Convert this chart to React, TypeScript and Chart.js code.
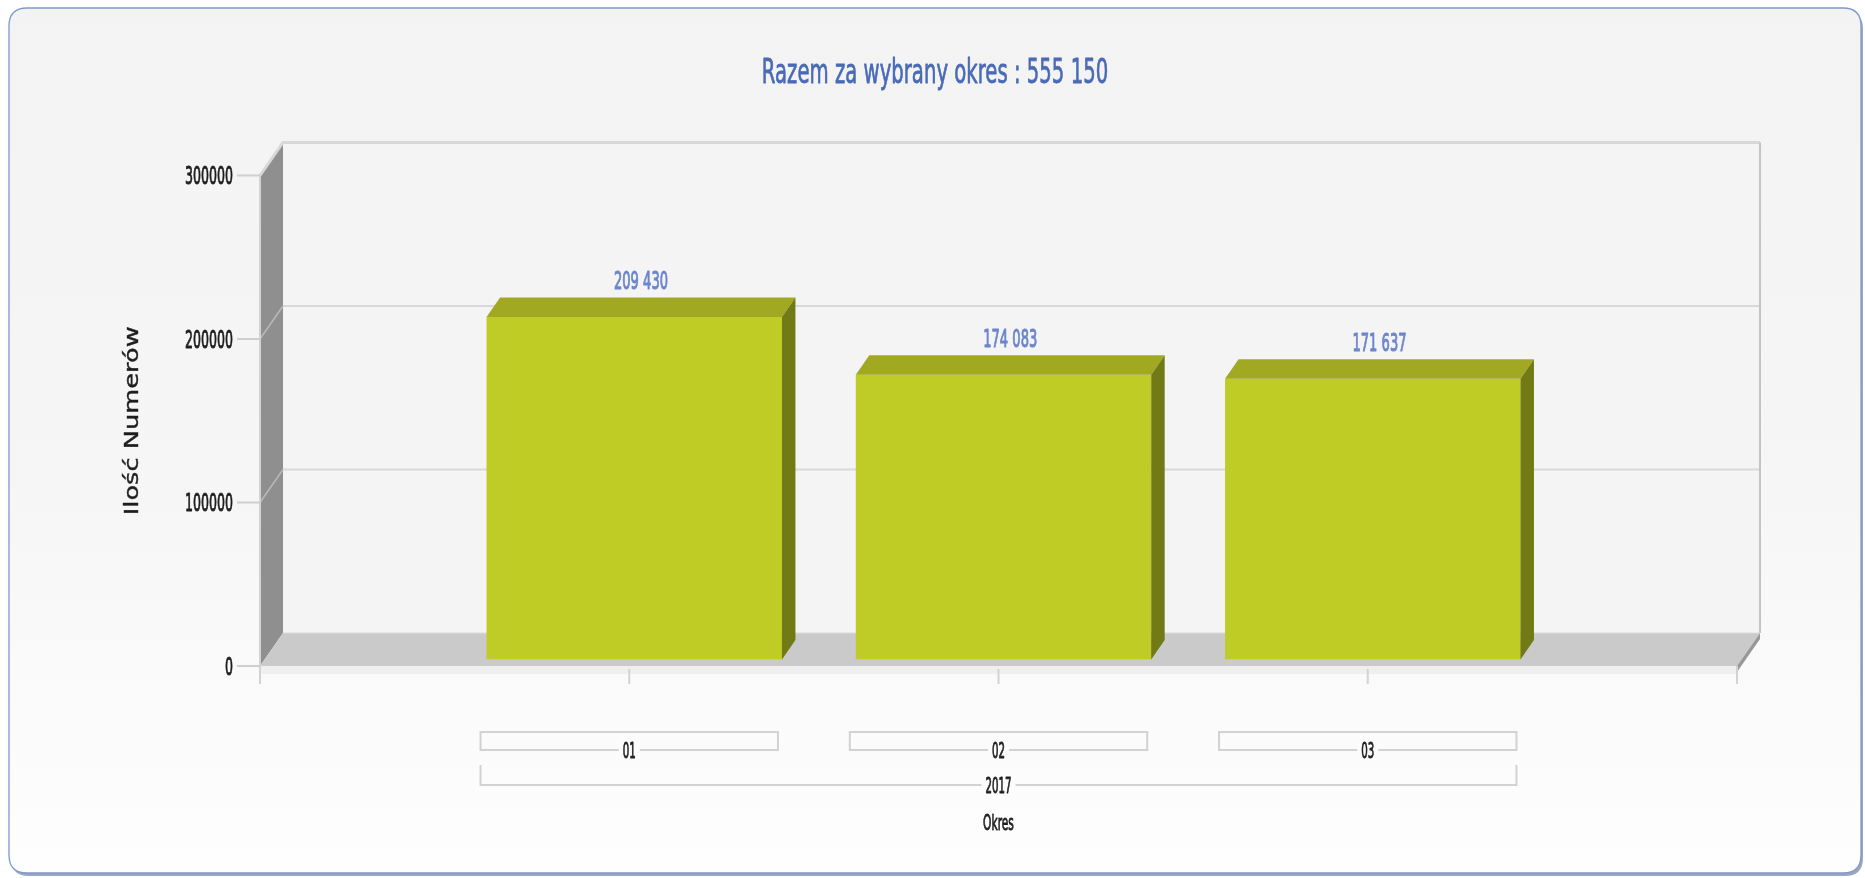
import React, { useEffect, useRef } from 'react';
import { Chart, registerables } from 'chart.js';

Chart.register(...registerables);

// ---------- data ----------
const categories = ['', '01', '02', '03', ''];
const values: (number | null)[] = [null, 209430, 174083, 171637, null];
const yTicks = [0, 100000, 200000, 300000];
const yMax = 300000;
const groupLabel = '2017';
const titlePrefix = 'Razem za wybrany okres : ';
const yAxisTitle = 'Ilość Numerów';
const xAxisTitle = 'Okres';

// ---------- style ----------
const FONT = '"DejaVu Sans", sans-serif';
const BAR_FRONT = '#bfcc25';
const BAR_TOP = '#a0a921';
const BAR_SIDE = '#727a16';
const TITLE_COLOR = '#4a6ab6';
const LABEL_COLOR = '#6c86cc';
const TEXT_COLOR = '#1e1e1e';

// 3D offsets
const BX = 5, BY = 6.5;   // front plane relative to bar plane
const DX = 23, DY = 33;   // depth of walls from front plane
const BDX = 13.5, BDY = 19.5; // bar depth

const fmt = (v: number) => String(v).replace(/\B(?=(\d{3})+(?!\d))/g, ' ');

function poly(ctx: CanvasRenderingContext2D, pts: number[][], fill: string) {
  ctx.beginPath();
  ctx.moveTo(pts[0][0], pts[0][1]);
  for (let i = 1; i < pts.length; i++) ctx.lineTo(pts[i][0], pts[i][1]);
  ctx.closePath();
  ctx.fillStyle = fill;
  ctx.fill();
}

function line(ctx: CanvasRenderingContext2D, pts: number[][], color: string, lw: number) {
  ctx.beginPath();
  ctx.moveTo(pts[0][0], pts[0][1]);
  for (let i = 1; i < pts.length; i++) ctx.lineTo(pts[i][0], pts[i][1]);
  ctx.strokeStyle = color;
  ctx.lineWidth = lw;
  ctx.stroke();
}

function text(
  ctx: CanvasRenderingContext2D,
  s: string,
  x: number,
  y: number,
  size: number,
  color: string,
  sx: number,
  align: CanvasTextAlign = 'center',
  thick = 0.9
) {
  ctx.save();
  ctx.translate(x, y);
  ctx.scale(sx, 1);
  ctx.font = `${size}px ${FONT}`;
  ctx.fillStyle = color;
  ctx.strokeStyle = color;
  ctx.lineWidth = thick;
  ctx.lineJoin = 'round';
  ctx.textAlign = align;
  ctx.textBaseline = 'alphabetic';
  ctx.fillText(s, 0, 0);
  if (thick > 0) ctx.strokeText(s, 0, 0);
  ctx.restore();
}

function textWidth(ctx: CanvasRenderingContext2D, s: string, size: number, sx: number) {
  ctx.save();
  ctx.font = `${size}px ${FONT}`;
  const w = ctx.measureText(s).width * sx;
  ctx.restore();
  return w;
}

function roundRect(ctx: CanvasRenderingContext2D, x: number, y: number, w: number, h: number, r: number) {
  ctx.beginPath();
  ctx.moveTo(x + r, y);
  ctx.lineTo(x + w - r, y);
  ctx.quadraticCurveTo(x + w, y, x + w, y + r);
  ctx.lineTo(x + w, y + h - r);
  ctx.quadraticCurveTo(x + w, y + h, x + w - r, y + h);
  ctx.lineTo(x + r, y + h);
  ctx.quadraticCurveTo(x, y + h, x, y + h - r);
  ctx.lineTo(x, y + r);
  ctx.quadraticCurveTo(x, y, x + r, y);
  ctx.closePath();
}

function geom(chart: any) {
  const xs = chart.scales.x;
  const ys = chart.scales.y;
  const fx = (v: number) => xs.getPixelForValue(v) - BX;
  const fy = (v: number) => ys.getPixelForValue(v) + BY;
  return { xs, ys, fx, fy, fl: fx(0), fr: fx(categories.length - 1), y0: fy(0), yT: fy(yMax) };
}

const scenePlugin = {
  id: 'scene3d',
  beforeDraw(chart: any) {
    const ctx: CanvasRenderingContext2D = chart.ctx;
    const W = chart.width, H = chart.height;
    const { fx, fy, fl, fr, y0, yT } = geom(chart);

    ctx.save();
    ctx.fillStyle = '#ffffff';
    ctx.fillRect(0, 0, W, H);

    // card
    const cx0 = 9, cy0 = 8, cw = 1852, ch = 865;
    roundRect(ctx, cx0 + 2, cy0 + 3, cw, ch, 18);
    ctx.fillStyle = '#9ea7ba';
    ctx.fill();
    roundRect(ctx, cx0, cy0, cw, ch, 18);
    const grad = ctx.createLinearGradient(0, cy0, 0, cy0 + ch);
    grad.addColorStop(0, '#f3f3f3');
    grad.addColorStop(0.55, '#f6f6f6');
    grad.addColorStop(1, '#fefefe');
    ctx.fillStyle = grad;
    ctx.fill();
    ctx.strokeStyle = '#7f98cf';
    ctx.lineWidth = 1.3;
    ctx.stroke();

    // title
    const total = values.reduce((a: number, v) => a + (v ?? 0), 0);
    text(ctx, titlePrefix + fmt(total), cx0 + cw / 2, 82.5, 33, TITLE_COLOR, 0.596, 'center', 0.8);

    // back wall
    ctx.fillStyle = '#f4f4f4';
    ctx.fillRect(fl + DX, yT - DY, fr - fl, y0 - yT);

    // back gridlines
    yTicks.forEach((v) => {
      if (v > 0 && v < yMax) line(ctx, [[fl + DX, fy(v) - DY], [fr + DX, fy(v) - DY]], '#d8d8d8', 2);
    });

    // left wall
    poly(ctx, [[fl, y0], [fl, yT], [fl + DX, yT - DY], [fl + DX, y0 - DY]], '#8f8f8f');
    yTicks.forEach((v) => {
      if (v > 0 && v < yMax) line(ctx, [[fl, fy(v)], [fl + DX, fy(v) - DY]], '#b9b9b9', 1.5);
    });

    // top highlight & right edge of back wall
    line(ctx, [[fl, yT], [fl + DX, yT - DY], [fr + DX, yT - DY]], '#d8d8d8', 3);
    line(ctx, [[fr + DX, yT - DY], [fr + DX, y0 - DY]], '#c3c3c3', 2);

    // floor
    poly(ctx, [[fl, y0], [fr, y0], [fr + DX, y0 - DY], [fl + DX, y0 - DY]], '#cacaca');
    line(ctx, [[fl + DX, y0 - DY], [fr + DX, y0 - DY]], '#dcdcdc', 1);
    ctx.fillStyle = '#efefef';
    ctx.fillRect(fl, y0, fr - fl, 8);
    poly(ctx, [[fr, y0], [fr + DX, y0 - DY], [fr + DX, y0 - DY + 6], [fr, y0 + 6]], '#989898');

    // front axis lines
    line(ctx, [[fl, yT], [fl, y0 + 18]], '#d3d3d3', 2);
    line(ctx, [[fr, y0], [fr, y0 + 18]], '#d3d3d3', 2);

    // y ticks + labels
    yTicks.forEach((v) => {
      const y = fy(v);
      line(ctx, [[fl - 23, y], [fl, y]], '#cfcfcf', 2);
      text(ctx, String(v), fl - 27, y + 8.8, 24, TEXT_COLOR, 0.524, 'right');
    });

    // x ticks
    categories.forEach((c, i) => {
      if (c) line(ctx, [[fx(i), y0 + 3], [fx(i), y0 + 18]], '#d3d3d3', 2);
    });

    // y axis title
    ctx.save();
    ctx.translate(133, (yT + y0) / 2);
    ctx.scale(0.77, 1);
    ctx.rotate(-Math.PI / 2);
    ctx.font = `25.7px ${FONT}`;
    ctx.fillStyle = TEXT_COLOR;
    ctx.strokeStyle = TEXT_COLOR;
    ctx.lineWidth = 0.5;
    ctx.textAlign = 'center';
    ctx.textBaseline = 'middle';
    ctx.fillText(yAxisTitle, 0, 0);
    ctx.strokeText(yAxisTitle, 0, 0);
    ctx.restore();

    // category brackets
    const meta = chart.getDatasetMeta(0);
    let gLeft = Infinity, gRight = -Infinity;
    const bt = y0 + 66, bb = y0 + 84;
    categories.forEach((c, i) => {
      if (!c) return;
      const el = meta.data[i];
      const half = (el ? el.width : 295) / 2 + 1;
      const cx = fx(i);
      const l = cx - half, r = cx + half;
      gLeft = Math.min(gLeft, l);
      gRight = Math.max(gRight, r);
      const tw = textWidth(ctx, c, 20.5, 0.5) / 2 + 4;
      line(ctx, [[cx - tw, bb], [l, bb], [l, bt], [r, bt], [r, bb], [cx + tw, bb]], '#d2d2d2', 2);
      text(ctx, c, cx, bb + 7.5, 20.5, TEXT_COLOR, 0.5);
    });

    // group bracket
    const gt = y0 + 99, gb = y0 + 119;
    const gc = (gLeft + gRight) / 2;
    const gw = textWidth(ctx, groupLabel, 20.5, 0.5) / 2 + 4;
    line(ctx, [[gc - gw, gb], [gLeft, gb], [gLeft, gt]], '#d2d2d2', 2);
    line(ctx, [[gc + gw, gb], [gRight, gb], [gRight, gt]], '#d2d2d2', 2);
    text(ctx, groupLabel, gc, gb + 7.5, 20.5, TEXT_COLOR, 0.5);

    // x axis title
    text(ctx, xAxisTitle, (fl + fr) / 2, y0 + 164, 20.5, TEXT_COLOR, 0.52);

    ctx.restore();
  },
  afterDatasetsDraw(chart: any) {
    const ctx: CanvasRenderingContext2D = chart.ctx;
    const meta = chart.getDatasetMeta(0);
    ctx.save();
    meta.data.forEach((el: any, i: number) => {
      const v = values[i];
      if (v == null) return;
      const l = el.x - el.width / 2, r = el.x + el.width / 2;
      const t = el.y, b = el.base;
      poly(ctx, [[l, t], [l + BDX, t - BDY], [r + BDX, t - BDY], [r, t]], BAR_TOP);
      poly(ctx, [[r, t], [r + BDX, t - BDY], [r + BDX, b - BDY], [r, b]], BAR_SIDE);
      text(ctx, fmt(v), el.x + BDX / 2, t - BDY - 8.5, 25.6, LABEL_COLOR, 0.51, 'center', 1.1);
    });
    ctx.restore();
  },
};

export default function App() {
  const ref = useRef<HTMLCanvasElement | null>(null);

  useEffect(() => {
    if (!ref.current) return;
    const chart = new Chart(ref.current, {
      type: 'bar',
      data: {
        labels: categories,
        datasets: [
          {
            data: values,
            backgroundColor: BAR_FRONT,
            borderWidth: 0,
            barPercentage: 0.8,
            categoryPercentage: 1,
          },
        ],
      },
      options: {
        responsive: true,
        maintainAspectRatio: false,
        animation: false,
        events: [],
        layout: { padding: { left: 265, right: 123, top: 169, bottom: 218.5 } },
        plugins: {
          legend: { display: false },
          title: { display: false },
          tooltip: { enabled: false },
        },
        scales: {
          x: { display: false, offset: false },
          y: { display: false, min: 0, max: yMax },
        },
      },
      plugins: [scenePlugin],
    } as any);
    return () => chart.destroy();
  }, []);

  return (
    <div style={{ position: 'absolute', left: 0, top: 0, width: 1865, height: 878 }}>
      <canvas ref={ref} />
    </div>
  );
}
